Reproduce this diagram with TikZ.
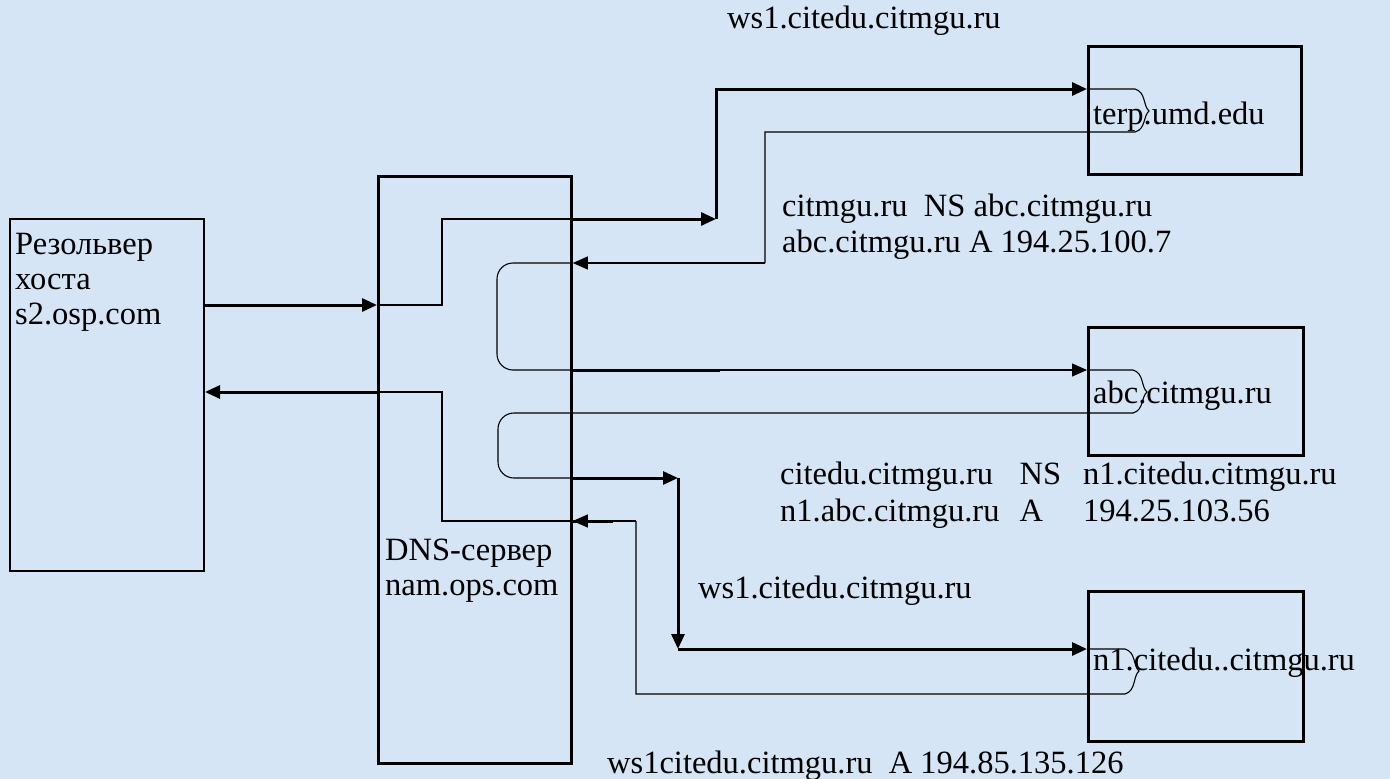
\documentclass[tikz,border=0pt]{standalone}
\usepackage{fontspec}
\setmainfont{Liberation Serif}
\usetikzlibrary{arrows.meta}
\definecolor{bgblue}{RGB}{214,229,245}
\begin{document}
\begin{tikzpicture}[x=1pt,y=-1pt,
  frame/.style={draw=black,line width=2.8pt,inner sep=0pt,anchor=north west},
  lbl/.style={anchor=base west,inner sep=0pt,font=\fontsize{32.5}{37}\selectfont},
  thk/.style={line width=3pt},
  thn/.style={line width=1.1pt},
  arr/.style={-{Triangle[length=15pt,width=13pt]}},
  bracket/.style={thn,rounded corners=16pt}]
\fill[bgblue] (0,0) rectangle (1390,779);
\useasboundingbox (0,0) rectangle (1390,779);

% boxes
\node[frame,line width=2pt,minimum width=194pt,minimum height=352pt] (res) at (9,218) {};
\node[frame,minimum width=193pt,minimum height=587pt] (dns) at (377,175) {};
\node[frame,minimum width=213pt,minimum height=128pt] (terp) at (1087,45) {};
\node[frame,minimum width=215pt,minimum height=128pt] (abc) at (1087,326) {};
\node[frame,minimum width=215pt,minimum height=150pt] (n1) at (1087,590) {};

% texts
\node[lbl] (r1) at (15,254) {Резольвер};
\node[lbl] (r2) at (15,289) {хоста};
\node[lbl] (r3) at (15,324) {s2.osp.com};
\node[lbl] (d1) at (385,560) {DNS-сервер};
\node[lbl] (d2) at (385,595) {nam.ops.com};
\node[lbl] (tt) at (1093,124) {terp.umd.edu};
\node[lbl] (at) at (1093,403) {abc.citmgu.ru};
\node[lbl] (nt) at (1093,670) {n1.citedu..citmgu.ru};
\node[lbl] (l1) at (727,28) {ws1.citedu.citmgu.ru};
\node[lbl] (l2) at (782,216) {citmgu.ru\ \ NS abc.citmgu.ru};
\node[lbl] (l3) at (782,252) {abc.citmgu.ru A 194.25.100.7};
\node[lbl] (l4) at (780,484) {\begin{tabular}[t]{@{}l@{\hspace{20pt}}l@{\hspace{22pt}}l@{}}
citedu.citmgu.ru & NS & n1.citedu.citmgu.ru\\
n1.abc.citmgu.ru & A & 194.25.103.56\end{tabular}};
\node[lbl] (l5) at (698,598) {ws1.citedu.citmgu.ru};
\node[lbl] (l6) at (607,773) {ws1citedu.citmgu.ru\ \ A 194.85.135.126};

% waypoints
\coordinate (q1) at (442,305);
\coordinate (q2) at (442,219);
\coordinate (t1) at (716,219);
\coordinate (t2) at (716,89);
\coordinate (tb1) at (1135,89);
\coordinate (tb2) at (1135,132);
\coordinate (u1) at (765,132);
\coordinate (u2) at (765,263);
\coordinate (b1) at (497,263);
\coordinate (b2) at (497,370);
\coordinate (k1) at (720,370);
\coordinate (ab1) at (1133,370);
\coordinate (ab2) at (1133,413);
\coordinate (b3) at (498,413);
\coordinate (b4) at (498,478);
\coordinate (c1) at (678,478);
\coordinate (c2) at (678,649);
\coordinate (nb1) at (1125,649);
\coordinate (nb2) at (1125,694);
\coordinate (v1) at (636,694);
\coordinate (v2) at (636,521);
\coordinate (k2) at (613,521);
\coordinate (q3) at (442,521);
\coordinate (q4) at (442,392);

% resolver -> DNS
\draw[thk,arr] (res.east |- q1) -- (dns.west |- q1);
\draw[thn] (dns.west |- q1) -- (q1) -- (q2) -- (dns.east |- q2);
% DNS -> terp
\draw[thk,arr] (dns.east |- q2) -- (t1);
\draw[thk,arr] (t1) -- (t2) -- (terp.west |- t2);
% terp -> DNS
\draw[thn] (terp.west |- t2) -- (tb1)
  .. controls (1146,92) and (1143,106) .. (1149,111)
  .. controls (1143,116) and (1146,129) .. (tb2) -- (u1) -- (u2);
\draw[thn,arr] (u2) -- (dns.east |- u2);
% processing bracket 1
\draw[bracket] (dns.east |- b1) -- (b1) -- (b2) -- (dns.east |- b2);
% DNS -> abc
\draw[thn,arr] (dns.east |- b2) -- (abc.west |- b2);
\draw[thk] (dns.east |- b2) -- (k1);
% abc -> DNS
\draw[thn] (abc.west |- ab1) -- (ab1)
  .. controls (1144,373) and (1141,387) .. (1147,392)
  .. controls (1141,397) and (1144,410) .. (ab2);
\draw[bracket] (ab2) -- (b3) -- (b4) -- (dns.east |- b4);
% DNS -> n1
\draw[thk,arr] (dns.east |- c1) -- (c1);
\draw[thk,arr] (c1) -- (c2);
\draw[thk,arr] (c2) -- (n1.west |- c2);
% n1 -> DNS
\draw[thn] (n1.west |- nb1) -- (nb1)
  .. controls (1136,652) and (1133,666) .. (1139,671)
  .. controls (1133,676) and (1136,691) .. (nb2) -- (v1) -- (v2);
\draw[thn,arr] (v2) -- (dns.east |- v2);
\draw[thk] (k2) -- (dns.east |- v2);
% DNS -> resolver
\draw[thn] (dns.east |- q3) -- (q3) -- (q4) -- (dns.west |- q4);
\draw[thk,arr] (dns.west |- q4) -- (res.east |- q4);
\end{tikzpicture}
\end{document}
